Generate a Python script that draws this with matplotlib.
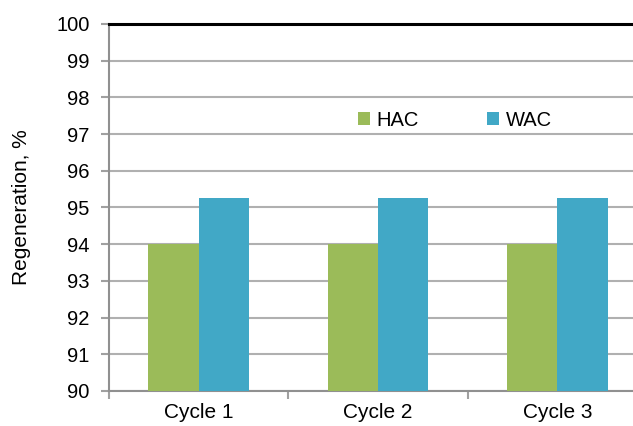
import matplotlib.pyplot as plt
import numpy as np

plt.rcParams['font.family'] = ['Liberation Sans', 'DejaVu Sans']

cycles = ["Cycle 1", "Cycle 2", "Cycle 3"]
hac = [94.0, 94.0, 94.0]
wac = [95.25, 95.25, 95.25]

green = "#9bbb59"
blue = "#41a8c6"

fig = plt.figure(figsize=(6.33, 4.26), dpi=100)
# axes runs a bit past the right edge, like the original
ax = fig.add_axes([109 / 633, 35 / 426, 538 / 633, 367 / 426])

x = np.arange(len(cycles))
w = 0.28
ax.bar(x - w / 2, hac, w, color=green, label="HAC", zorder=3)
ax.bar(x + w / 2, wac, w, color=blue, label="WAC", zorder=3)

ax.set_ylim(90, 100)
ax.set_xlim(-0.5, 2.5)
ax.set_yticks(np.arange(90, 101, 1))
ax.yaxis.grid(True, color="#b0b0b0", linewidth=1.5, zorder=0)
ax.set_axisbelow(True)

ax.set_xticks(x)
ax.set_xticklabels(cycles, fontsize=15)
ax.set_xticks(np.arange(-0.5, 3, 1), minor=True)
ax.tick_params(axis="x", which="major", length=0, pad=9)
ax.tick_params(axis="x", which="minor", length=6, color="#a0a0a0", width=1.5)
ax.tick_params(axis="y", labelsize=14.5, length=6, color="#a0a0a0", width=1.5, pad=8)

for s in ["left", "bottom"]:
    ax.spines[s].set_color("#909090")
    ax.spines[s].set_linewidth(1.5)
ax.spines["right"].set_visible(False)
ax.spines["top"].set_color("black")
ax.spines["top"].set_linewidth(2.2)

ax.set_ylabel("Regeneration, %", fontsize=15, labelpad=18)

ax.legend(loc="center", bbox_to_anchor=(0.643, 0.738), ncol=2, frameon=False,
          fontsize=14.5, handlelength=0.6, handleheight=0.6, handletextpad=0.3,
          columnspacing=3.4)

plt.savefig("out.png", dpi=100)
